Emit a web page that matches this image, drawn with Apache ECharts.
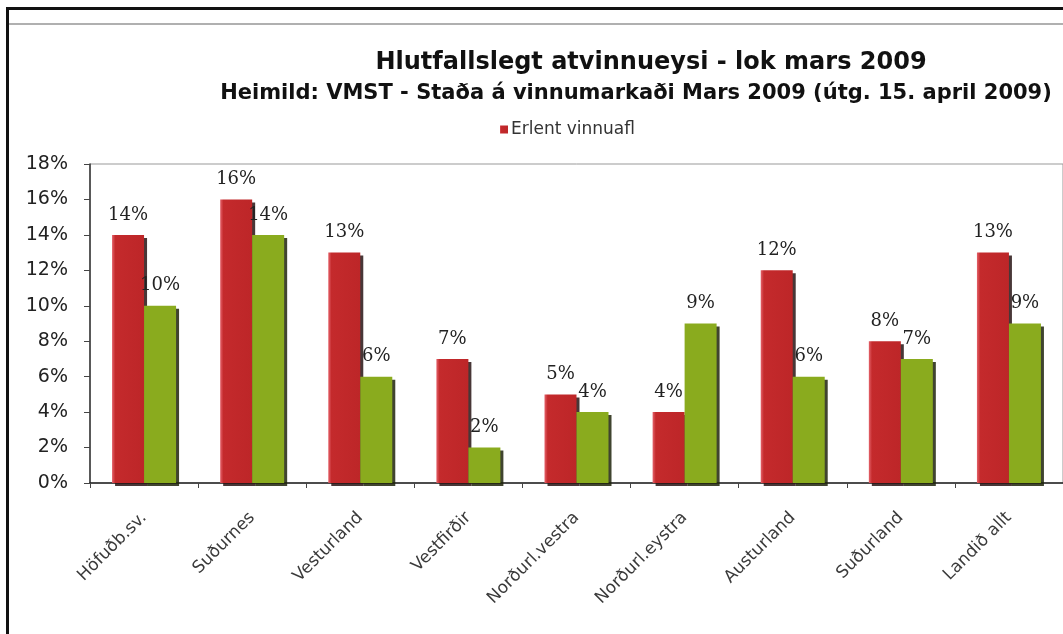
<!DOCTYPE html>
<html>
<head>
<meta charset="utf-8">
<script src="https://cdn.jsdelivr.net/npm/echarts@6/dist/echarts.min.js"></script>
<style>
  html, body { margin: 0; padding: 0; background: #fff; }
  #chart { width: 1063px; height: 634px; }
</style>
</head>
<body>
<div id="chart"></div>
<script>
// Regions (landshlutar)
const categories = ['Höfuðb.sv.', 'Suðurnes', 'Vesturland', 'Vestfirðir', 'Norðurl.vestra', 'Norðurl.eystra', 'Austurland', 'Suðurland', 'Landið allt'];
// Unemployment share, percent
const erlent = [14, 16, 13, 7, 5, 4, 12, 8, 13];
const heild = [10, 14, 6, 2, 4, 9, 6, 7, 9];
const yTicks = { min: 0, max: 18, interval: 2 };

const chart = echarts.init(document.getElementById('chart'));

const labelStyle = {
  show: true,
  position: 'top',
  distance: 11,
  formatter: '{c}%',
  fontFamily: 'DejaVu Serif',
  fontSize: 18,
  color: '#222'
};

chart.setOption({
  backgroundColor: '#fff',
  animation: false,
  title: [
    {
      text: 'Hlutfallslegt atvinnueysi - lok mars 2009',
      left: 646, top: 46, textAlign: 'center',
      textStyle: { fontFamily: 'DejaVu Sans', fontWeight: 'bold', fontSize: 24, color: '#111' }
    },
    {
      text: 'Heimild: VMST - Staða á vinnumarkaði Mars 2009 (útg. 15. april 2009)',
      left: 631, top: 78, textAlign: 'center',
      textStyle: { fontFamily: 'DejaVu Sans', fontWeight: 'bold', fontSize: 21, color: '#111' }
    }
  ],
  legend: {
    data: ['Erlent vinnuafl'],
    left: 495, top: 116,
    icon: 'rect', itemWidth: 8, itemHeight: 8, itemGap: 4,
    textStyle: { fontFamily: 'DejaVu Sans', fontSize: 17, color: '#333', padding: [0, 0, 0, -2] }
  },
  graphic: [
    { type: 'rect', shape: { x: 6, y: 7, width: 1057, height: 3 }, style: { fill: '#111' } },
    { type: 'rect', shape: { x: 6, y: 7, width: 3, height: 627 }, style: { fill: '#111' } },
    { type: 'rect', shape: { x: 9, y: 23, width: 1054, height: 2 }, style: { fill: '#b0b0b0' } }
  ],
  grid: {
    left: 90, top: 164, width: 976, height: 319,
    show: true, borderColor: '#999', borderWidth: 1, backgroundColor: 'transparent'
  },
  xAxis: {
    type: 'category',
    data: categories,
    axisLine: { lineStyle: { color: '#222', width: 1.5 } },
    axisTick: { show: true, length: 5, lineStyle: { color: '#444' } },
    axisLabel: {
      rotate: 45, margin: 32, interval: 0,
      fontFamily: 'DejaVu Sans', fontSize: 17, color: '#3a3a3a'
    }
  },
  yAxis: {
    type: 'value',
    min: yTicks.min, max: yTicks.max, interval: yTicks.interval,
    axisLine: { show: true, lineStyle: { color: '#333', width: 1.5 } },
    axisTick: { show: true, length: 6, lineStyle: { color: '#444' } },
    splitLine: { show: false },
    axisLabel: {
      formatter: '{value}%', margin: 22,
      fontFamily: 'DejaVu Sans', fontSize: 19, color: '#222'
    }
  },
  series: [
    {
      name: 'Erlent vinnuafl',
      type: 'bar',
      data: erlent,
      barWidth: 32,
      barGap: '0%',
      itemStyle: {
        color: new echarts.graphic.LinearGradient(0, 0, 1, 0, [
          { offset: 0, color: '#e4626a' },
          { offset: 0.1, color: '#c42a2c' },
          { offset: 1, color: '#bd2628' }
        ]),
        shadowColor: 'rgba(40,20,20,0.85)', shadowOffsetX: 3, shadowOffsetY: 3, shadowBlur: 0
      },
      label: labelStyle
    },
    {
      name: 'Heild',
      type: 'bar',
      data: heild,
      barWidth: 32,
      itemStyle: {
        color: '#8aab1e',
        shadowColor: 'rgba(30,35,10,0.85)', shadowOffsetX: 3, shadowOffsetY: 3, shadowBlur: 0
      },
      label: labelStyle
    }
  ]
});
</script>
</body>
</html>
